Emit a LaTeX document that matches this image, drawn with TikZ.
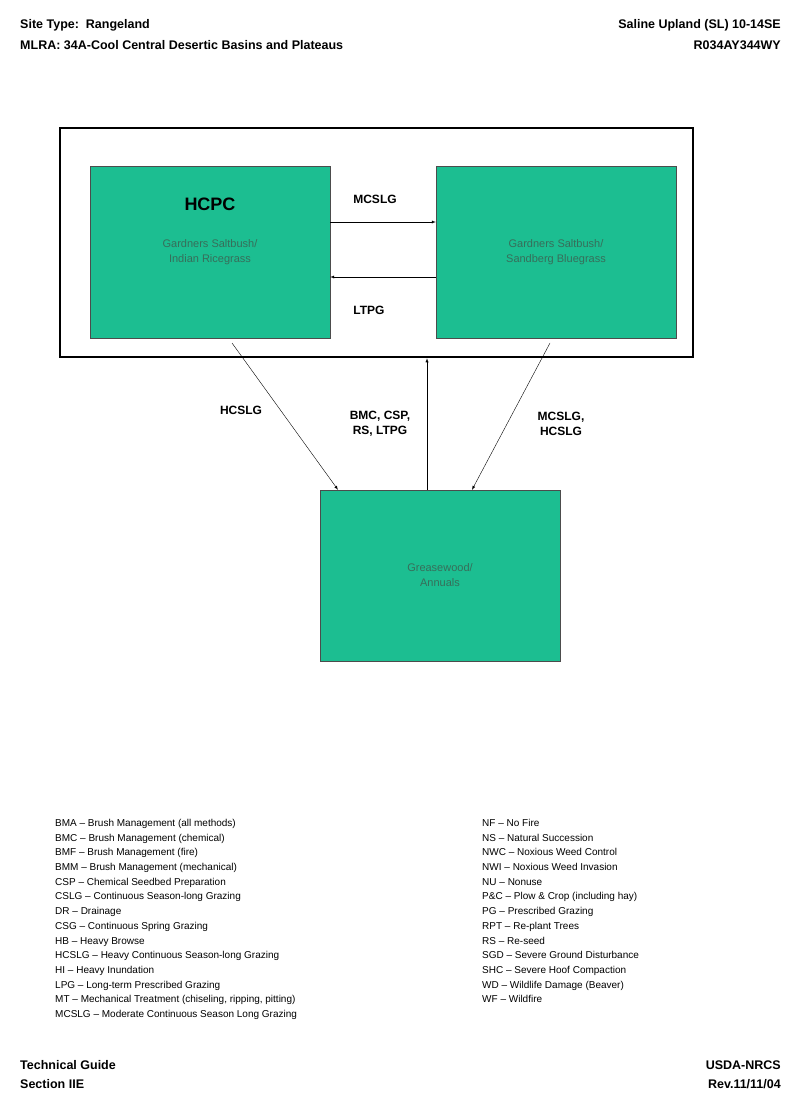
\documentclass[tikz,border=0pt]{standalone}
\usepackage{fontspec}
\setmainfont{Liberation Sans}
\begin{document}
\begin{tikzpicture}[x=1pt,y=-1pt,
  state/.style={draw=black!70,fill=boxg,minimum width=240pt,minimum height=172pt,inner sep=0pt},
  lbl/.style={font=\bfseries\fontsize{12}{15}\selectfont,align=center},
  hdr/.style={font=\bfseries\fontsize{12.5}{18}\selectfont,inner sep=0pt},
  leg/.style={font=\fontsize{10}{14.7}\selectfont,align=left,anchor=north west,inner sep=0pt},
  arr/.style={-latex,thin}]
\definecolor{boxg}{RGB}{28,190,145}
\definecolor{txtg}{RGB}{55,110,90}
\fill[white] (0,0) rectangle (800,1108);
\node[hdr,anchor=west] (h1) at (20,25) {Site Type:\ \ Rangeland};
\node[hdr,anchor=west] (h2) at (20,45) {MLRA: 34A-Cool Central Desertic Basins and Plateaus};
\node[hdr,anchor=east] (h3) at (781,25) {Saline Upland (SL) 10-14SE};
\node[hdr,anchor=east] (h4) at (781,45) {R034AY344WY};
\node[draw,line width=2.5pt,minimum width=633pt,minimum height=229pt,inner sep=0pt] (frame) at (376.5,242.5) {};
\node[state] (a) at (210,252) {};
\node[font=\bfseries\fontsize{18}{20}\selectfont] (at) at (210,204) {HCPC};
\node[font=\fontsize{11}{15}\selectfont,text=txtg,align=center] (ab) at (210,252) {Gardners Saltbush/\\Indian Ricegrass};
\node[state] (b) at (556,252) {};
\node[font=\fontsize{11}{15}\selectfont,text=txtg,align=center] (bb) at (556,252) {Gardners Saltbush/\\Sandberg Bluegrass};
\node[state,minimum height=171pt] (c) at (440,575.5) {};
\node[font=\fontsize{11}{15}\selectfont,text=txtg,align=center] (cb) at (440,575) {Greasewood/\\Annuals};
\draw[arr] (a.east|-0,222) -- (b.west|-0,222);
\draw[arr] (b.west|-0,277) -- (a.east|-0,277);
\node[lbl] (l1) at (375,199) {MCSLG};
\node[lbl] (l2) at (369,310) {LTPG};
\coordinate (p1) at (232,343);
\coordinate (p2) at (550,343);
\draw[arr] (p1) -- (c.north west-|338,0);
\draw[arr] (p2) -- (c.north west-|472,0);
\draw[arr] (c.north west-|427,0) -- (frame.south-|427,0);
\node[lbl] (l3) at (241,410) {HCSLG};
\node[lbl] (l4) at (380,424) {BMC, CSP,\\RS, LTPG};
\node[lbl] (l5) at (561,424) {MCSLG,\\HCSLG};
\node[leg] (lg1) at (55,819) {BMA -- Brush Management (all methods)\\
BMC -- Brush Management (chemical)\\
BMF -- Brush Management (fire)\\
BMM -- Brush Management (mechanical)\\
CSP -- Chemical Seedbed Preparation\\
CSLG -- Continuous Season-long Grazing\\
DR -- Drainage\\
CSG -- Continuous Spring Grazing\\
HB -- Heavy Browse\\
HCSLG -- Heavy Continuous Season-long Grazing\\
HI -- Heavy Inundation\\
LPG -- Long-term Prescribed Grazing\\
MT -- Mechanical Treatment (chiseling, ripping, pitting)\\
MCSLG -- Moderate Continuous Season Long Grazing};
\node[leg] (lg2) at (482,819) {NF -- No Fire\\
NS -- Natural Succession\\
NWC -- Noxious Weed Control\\
NWI -- Noxious Weed Invasion\\
NU -- Nonuse\\
P\&C -- Plow \& Crop (including hay)\\
PG -- Prescribed Grazing\\
RPT -- Re-plant Trees\\
RS -- Re-seed\\
SGD -- Severe Ground Disturbance\\
SHC -- Severe Hoof Compaction\\
WD -- Wildlife Damage (Beaver)\\
WF -- Wildfire};
\node[hdr,anchor=west] (f1) at (20,1065) {Technical Guide};
\node[hdr,anchor=west] (f2) at (20,1084) {Section IIE};
\node[hdr,anchor=east] (f3) at (781,1065) {USDA-NRCS};
\node[hdr,anchor=east] (f4) at (781,1084) {Rev.11/11/04};
\end{tikzpicture}
\end{document}
